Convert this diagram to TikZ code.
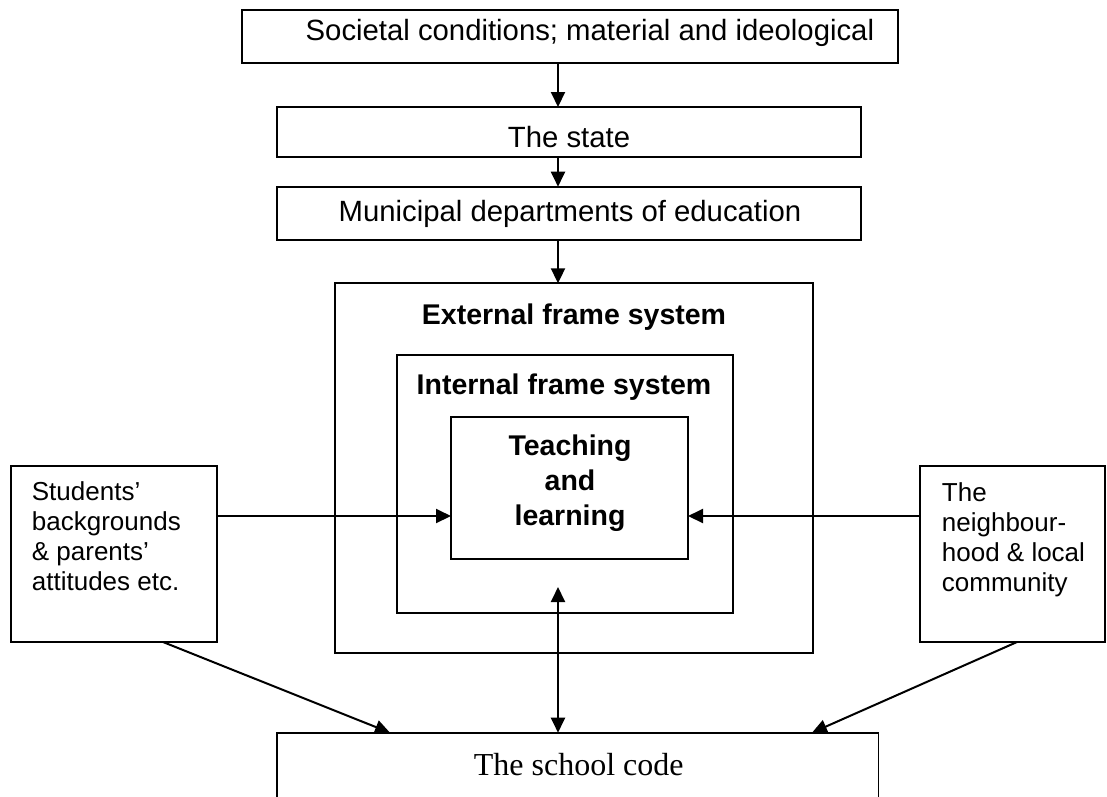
\documentclass[tikz,border=0pt]{standalone}
\usepackage{fontspec}
\setmainfont{Liberation Sans}
\newfontfamily\timesf{Liberation Serif}
\usetikzlibrary{arrows.meta}
\begin{document}
\begin{tikzpicture}[x=1pt,y=-1pt,
  box/.style={draw, line width=1.8pt, inner sep=0pt, outer sep=0pt},
  conn/.style={line width=2pt, -{Triangle[length=15pt,width=14pt]}},
  dconn/.style={line width=2pt, {Triangle[length=15pt,width=14pt]}-{Triangle[length=15pt,width=14pt]}},
  big/.style={inner sep=0pt, font=\fontsize{29.3}{34}\selectfont},
  reg/.style={inner sep=0pt, font=\fontsize{26}{30}\selectfont},
  bld/.style={inner sep=0pt, font=\fontsize{28.5}{35}\selectfont\bfseries},
]
\useasboundingbox (0,0) rectangle (1107,796);
\fill[white] (0,0) rectangle (1107,796);

% boxes
\node[box, minimum width=656pt, minimum height=52.7pt] (top) at (570,36.35) {};
\node[box, minimum width=584pt, minimum height=50pt] (state) at (569,132) {};
\node[box, minimum width=584pt, minimum height=53.3pt] (mun) at (569,213.35) {};
\node[box, minimum width=478pt, minimum height=369.7pt] (ext) at (574,468.15) {};
\node[box, minimum width=336pt, minimum height=257.7pt] (int) at (565,483.85) {};
\node[box, minimum width=237pt, minimum height=142pt] (teach) at (569.5,488) {};
\node[box, minimum width=206pt, minimum height=176pt] (lbox) at (114,554) {};
\node[box, minimum width=185pt, minimum height=176pt] (rbox) at (1012.5,554) {};
\node[box, minimum width=601.5pt, minimum height=77.3pt] (code) at (577.75,771.35) {};

% texts
\node[big, anchor=base west] (toptxt) at (305.5,40) {Societal conditions; material and ideological};
\node[big, anchor=base] (statetxt) at (569,147) {The state};
\node[big, anchor=base] (muntxt) at (570,221) {Municipal departments of education};
\node[bld, anchor=base] (exttxt) at (574,324) {External frame system};
\node[bld, anchor=base] (inttxt) at (564,394) {Internal frame system};
\node[bld, anchor=north, align=center] (teachtxt) at (570,434.6) {Teaching\\and\\learning};
\node[reg, anchor=north west, align=left] (ltxt) at (31.7,481) {Students'\\backgrounds\\\& parents'\\attitudes etc.};
\node[reg, anchor=north west, align=left] (rtxt) at (941.7,482.7) {The\\neighbour-\\hood \& local\\community};
\node[inner sep=0pt, anchor=base, font=\timesf\fontsize{32}{38}\selectfont] (codetxt) at (578.7,775) {The school code};

% connectors
\coordinate (a1) at (558,0);
\draw[conn] (a1 |- top.south) -- (a1 |- state.north);
\draw[conn] (a1 |- state.south) -- (a1 |- mun.north);
\draw[conn] (a1 |- mun.south) -- (a1 |- ext.north);
\draw[conn] ([yshift=38pt]lbox.east) coordinate (la) -- (la -| teach.west);
\draw[conn] ([yshift=38pt]rbox.west) coordinate (ra) -- (ra -| teach.east);
\coordinate (up) at (558,587);
\draw[dconn] (up) -- (up |- code.north);
\draw[conn] ([xshift=49pt]lbox.south) -- ([xshift=-187.75pt]code.north);
\draw[conn] ([xshift=4.5pt]rbox.south) -- ([xshift=234.25pt]code.north);
\end{tikzpicture}
\end{document}
